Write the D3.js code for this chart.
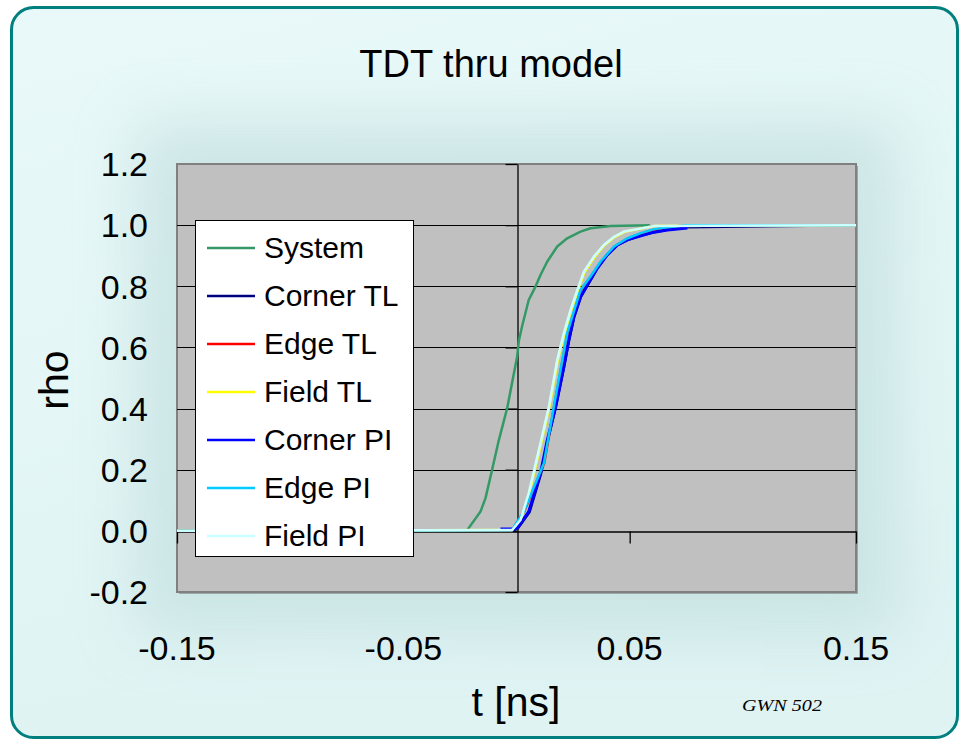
<!DOCTYPE html>
<html>
<head>
<meta charset="utf-8">
<script src="https://cdn.jsdelivr.net/npm/d3@7"></script>
<style>
  html, body { margin: 0; padding: 0; background: #ffffff; }
  svg { display: block; }
  text { font-family: "Liberation Sans", Arial, sans-serif; fill: #000; }
</style>
</head>
<body>
<svg id="chart" width="960" height="740"></svg>
<script>
// ---------------- data ----------------
const seriesNames = ["System", "Corner TL", "Edge TL", "Field TL", "Corner PI", "Edge PI", "Field PI"];

const tSystem   = [-0.15, -0.022, -0.0159, -0.0137, -0.0108, -0.0078, -0.0041, 0.0003, 0.001, 0.0025, 0.0054, 0.0084, 0.0106, 0.0136, 0.018, 0.0224, 0.0283, 0.0327, 0.0416, 0.059];
const rhoSystem = [0, 0, 0.063, 0.107, 0.199, 0.297, 0.402, 0.57, 0.62, 0.67, 0.755, 0.799, 0.837, 0.881, 0.930, 0.957, 0.979, 0.990, 0.997, 1.0];

const tCornerTL   = [-0.15, -0.001, 0.0008, 0.0058, 0.0108, 0.0138, 0.0174, 0.021, 0.0232, 0.0255, 0.0284, 0.0314, 0.0356, 0.04, 0.0444, 0.0488, 0.0547, 0.0605, 0.0665, 0.075, 0.15];
const rhoCornerTL = [0, 0.002, 0.01, 0.062, 0.186, 0.295, 0.405, 0.535, 0.622, 0.70, 0.765, 0.803, 0.858, 0.902, 0.934, 0.951, 0.965, 0.977, 0.985, 0.993, 1.0];

const tEdgeTL   = [-0.15, -0.002, 0.0033, 0.0122, 0.0166, 0.0225, 0.0284, 0.0328, 0.0373, 0.0432, 0.0491, 0.055, 0.061, 0.067, 0.075, 0.15];
const rhoEdgeTL = [0, 0.002, 0.062, 0.220, 0.405, 0.645, 0.787, 0.831, 0.880, 0.929, 0.956, 0.973, 0.986, 0.993, 1.0, 1.0];

const tFieldTL   = [-0.15, -0.0019, 0.002, 0.0056, 0.0108, 0.0145, 0.0182, 0.0211, 0.0241, 0.0271, 0.03, 0.0344, 0.0388, 0.0433, 0.0477, 0.0536, 0.061, 0.15];
const rhoFieldTL = [0, 0.003, 0.035, 0.122, 0.285, 0.405, 0.557, 0.644, 0.721, 0.786, 0.846, 0.895, 0.934, 0.961, 0.978, 0.987, 0.997, 1.0];

const tCornerPI   = [-0.0071, -0.0018, 0.0003, 0.0054, 0.0106, 0.0136, 0.0173, 0.0209, 0.0231, 0.0254, 0.0283, 0.0313, 0.0357, 0.0401, 0.0446, 0.049, 0.0549, 0.0608, 0.0667, 0.0755];
const rhoCornerPI = [0.006, 0.006, 0.009, 0.063, 0.188, 0.297, 0.406, 0.537, 0.624, 0.701, 0.766, 0.804, 0.859, 0.903, 0.935, 0.952, 0.965, 0.977, 0.984, 0.991];

const tEdgePI   = [-0.15, -0.002, 0.0032, 0.0121, 0.0165, 0.0224, 0.0283, 0.0327, 0.0372, 0.0431, 0.049, 0.0549, 0.0608, 0.0667, 0.075, 0.15];
const rhoEdgePI = [0, 0.002, 0.063, 0.221, 0.406, 0.647, 0.788, 0.832, 0.881, 0.930, 0.957, 0.974, 0.987, 0.993, 1.0, 1.0];

const tFieldPI   = [-0.15, -0.0019, 0.0018, 0.0054, 0.0106, 0.0143, 0.018, 0.0209, 0.0239, 0.0269, 0.0298, 0.0342, 0.0386, 0.0431, 0.0475, 0.0534, 0.0608, 0.15];
const rhoFieldPI = [0, 0.003, 0.036, 0.123, 0.287, 0.406, 0.559, 0.646, 0.723, 0.788, 0.848, 0.897, 0.935, 0.962, 0.979, 0.987, 0.997, 1.0];

const xTickValues = [-0.15, -0.05, 0.05, 0.15];
const xTickLabels = ["-0.15", "-0.05", "0.05", "0.15"];
const yTickValues = [-0.2, 0, 0.2, 0.4, 0.6, 0.8, 1.0, 1.2];
const yTickLabels = ["-0.2", "0.0", "0.2", "0.4", "0.6", "0.8", "1.0", "1.2"];

const titleText = "TDT thru model";
const xTitle = "t [ns]";
const yTitle = "rho";
const footText = "GWN 502";

// ---------------- styles ----------------
const seriesColors = ["#339966", "#000080", "#ff0000", "#ffff00", "#0000ff", "#00ccff", "#ccffff"];
const seriesWidths = [2.5, 2.5, 2.5, 2.5, 3, 2.5, 2.5];

const seriesT = [tSystem, tCornerTL, tEdgeTL, tFieldTL, tCornerPI, tEdgePI, tFieldPI];
const seriesR = [rhoSystem, rhoCornerTL, rhoEdgeTL, rhoFieldTL, rhoCornerPI, rhoEdgePI, rhoFieldPI];
const series = seriesNames.map((name, i) => ({
  name, color: seriesColors[i], width: seriesWidths[i],
  values: seriesT[i].map((t, j) => ({ t, r: seriesR[i][j] }))
}));

// ---------------- drawing ----------------
const svg = d3.select("#chart");
const W = 960, H = 740;
const plot = { left: 177, right: 856, top: 164, bottom: 592 };

const x = d3.scaleLinear().domain([-0.15, 0.15]).range([plot.left, plot.right]);
const y = d3.scaleLinear().domain([-0.2, 1.2]).range([plot.bottom, plot.top]);

const defs = svg.append("defs");
const bg = defs.append("linearGradient").attr("id", "bgGrad")
  .attr("x1", 0).attr("y1", 0).attr("x2", 0.3).attr("y2", 1);
bg.append("stop").attr("offset", "0%").attr("stop-color", "#e9f9f9");
bg.append("stop").attr("offset", "100%").attr("stop-color", "#dff3f3");
defs.append("filter").attr("id", "glow").attr("x", "-30%").attr("y", "-30%").attr("width", "160%").attr("height", "160%")
  .append("feGaussianBlur").attr("stdDeviation", 30);
defs.append("clipPath").attr("id", "frameClip")
  .append("rect").attr("x", 11).attr("y", 7).attr("width", 947).attr("height", 731).attr("rx", 22);
defs.append("clipPath").attr("id", "plotClip")
  .append("rect").attr("x", plot.left).attr("y", plot.top)
  .attr("width", plot.right - plot.left).attr("height", plot.bottom - plot.top);

// slide background
const frameG = svg.append("g").attr("clip-path", "url(#frameClip)");
frameG.append("rect").attr("x", 0).attr("y", 0).attr("width", W).attr("height", H).attr("fill", "url(#bgGrad)");
frameG.append("rect")
  .attr("x", plot.left - 40).attr("y", plot.top - 40)
  .attr("width", plot.right - plot.left + 80).attr("height", plot.bottom - plot.top + 80)
  .attr("fill", "#bcdada").attr("opacity", 0.6).attr("filter", "url(#glow)");
svg.append("rect").attr("x", 11.5).attr("y", 7.5).attr("width", 946).attr("height", 730).attr("rx", 22)
  .attr("fill", "none").attr("stroke", "#007f7f").attr("stroke-width", 3);

// title
svg.append("text").attr("x", 491).attr("y", 77).attr("text-anchor", "middle")
  .attr("font-size", 38).text(titleText);

// plot area with shadow
svg.append("rect").attr("x", plot.left + 2).attr("y", plot.top + 2)
  .attr("width", plot.right - plot.left).attr("height", plot.bottom - plot.top)
  .attr("fill", "#9aa8a8");
svg.append("rect").attr("x", plot.left).attr("y", plot.top)
  .attr("width", plot.right - plot.left).attr("height", plot.bottom - plot.top)
  .attr("fill", "#c0c0c0").attr("stroke", "#808080").attr("stroke-width", 2);

// horizontal gridlines
svg.append("g").selectAll("line")
  .data(yTickValues.filter(v => v > -0.2 && v < 1.2 && v !== 0))
  .join("line")
  .attr("x1", plot.left).attr("x2", plot.right)
  .attr("y1", d => Math.round(y(d)) + 0.5).attr("y2", d => Math.round(y(d)) + 0.5)
  .attr("stroke", "#000").attr("stroke-width", 1);

// y axis at t = 0 (ticks pointing left)
const x0 = Math.round(x(0)) + 0.5;
const yAxisG = svg.append("g").attr("transform", `translate(${x0},0)`)
  .call(d3.axisLeft(y).tickValues(yTickValues).tickFormat("").tickSizeInner(12).tickSizeOuter(0));
yAxisG.select(".domain").attr("stroke", "#000").attr("stroke-width", 1.3);
yAxisG.selectAll(".tick line").attr("stroke", "#000").attr("stroke-width", 1.3);

// x axis at rho = 0 (ticks pointing down)
const y0 = Math.round(y(0)) + 0.5;
const xAxisG = svg.append("g").attr("transform", `translate(0,${y0})`)
  .call(d3.axisBottom(x).tickValues(xTickValues).tickFormat("").tickSizeInner(12).tickSizeOuter(0));
xAxisG.select(".domain").attr("stroke", "#000").attr("stroke-width", 1.3);
xAxisG.selectAll(".tick line").attr("stroke", "#000").attr("stroke-width", 1.3);

// tick labels (low position)
svg.append("g").selectAll("text").data(yTickValues).join("text")
  .attr("x", 148).attr("y", d => y(d)).attr("dy", "0.36em")
  .attr("text-anchor", "end").attr("font-size", 34)
  .text((d, i) => yTickLabels[i]);
svg.append("g").selectAll("text").data(xTickValues).join("text")
  .attr("x", d => x(d)).attr("y", 660)
  .attr("text-anchor", "middle").attr("font-size", 34)
  .text((d, i) => xTickLabels[i]);

// axis titles
svg.append("text").attr("transform", "translate(68,380) rotate(-90)")
  .attr("text-anchor", "middle").attr("font-size", 41).text(yTitle);
svg.append("text").attr("x", 516).attr("y", 716).attr("text-anchor", "middle")
  .attr("font-size", 41).text(xTitle);

// series lines
const line = d3.line().x(d => x(d.t)).y(d => y(d.r));
svg.append("g").attr("clip-path", "url(#plotClip)")
  .selectAll("path").data(series).join("path")
  .attr("d", d => line(d.values))
  .attr("fill", "none")
  .attr("stroke", d => d.color)
  .attr("stroke-width", d => d.width)
  .attr("stroke-linejoin", "round");

// legend
const lg = svg.append("g");
lg.append("rect").attr("x", 195.5).attr("y", 220.5).attr("width", 218).attr("height", 336)
  .attr("fill", "#ffffff").attr("stroke", "#000").attr("stroke-width", 1);
const items = lg.selectAll("g.item").data(series).join("g").attr("class", "item")
  .attr("transform", (d, i) => `translate(0,${247 + i * 48})`);
items.append("line").attr("x1", 207).attr("x2", 255).attr("y1", 1).attr("y2", 1)
  .attr("stroke", d => d.color).attr("stroke-width", 2.5);
items.append("text").attr("x", 264).attr("y", 0).attr("dy", "0.36em")
  .attr("font-size", 30).text(d => d.name);

// footer mark
svg.append("text").attr("x", 742).attr("y", 711)
  .style("font-family", "'Liberation Serif', 'DejaVu Serif', serif")
  .style("font-style", "italic").attr("font-size", 17)
  .attr("textLength", 80).attr("lengthAdjust", "spacingAndGlyphs")
  .text(footText);
</script>
</body>
</html>
